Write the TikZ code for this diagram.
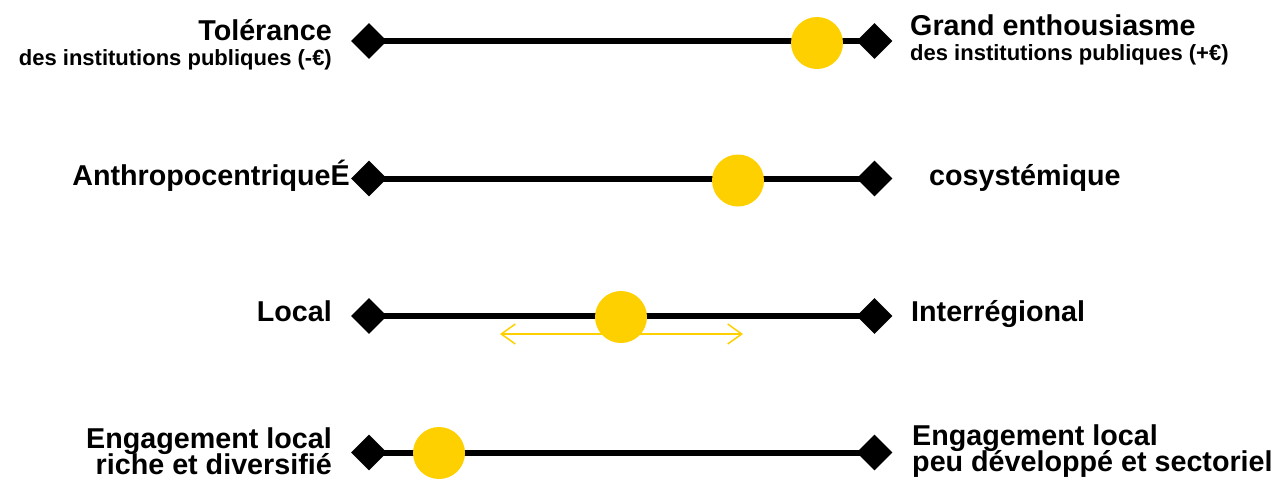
\documentclass[tikz,border=0pt]{standalone}
\usepackage{fontspec}
\setmainfont{Liberation Sans}
\usetikzlibrary{shapes.geometric,arrows.meta}
\definecolor{dotyellow}{RGB}{254,208,0}

\begin{document}
\begin{tikzpicture}[
        x=1pt, y=-1pt,
        axis/.style={line width=6pt},
        endmark/.style={diamond, fill=black, minimum size=36pt, inner sep=0pt},
        knob/.style={circle, fill=dotyellow, minimum size=52pt, inner sep=0pt},
        lab/.style={font=\fontsize{28.7pt}{30pt}\selectfont\bfseries, inner sep=0pt},
        sublab/.style={font=\fontsize{22pt}{24pt}\selectfont\bfseries, inner sep=0pt},
        spread/.style={dotyellow, line width=1.5pt, {Straight Barb[length=14pt,width=20pt]}-{Straight Barb[length=14pt,width=20pt]}}
      ]
      \useasboundingbox (0,0) rectangle (1281,483);
      % labels
      \node[lab, anchor=base east] (tol) at (332,40) {Tolérance};
      \node[sublab, anchor=base east] (tolsub) at (332,65) {des institutions publiques (-€)};
      \node[lab, anchor=base west] (enth) at (910,35) {Grand enthousiasme};
      \node[sublab, anchor=base west] (enthsub) at (910,60) {des institutions publiques (+€)};
      \node[lab, anchor=base east] (anthro) at (350,185) {AnthropocentriqueÉ};
      \node[lab, anchor=base west] (eco) at (929,185) {cosystémique};
      \node[lab, anchor=base east] (local) at (332,321.5) {Local};
      \node[lab, anchor=base west] (inter) at (911,321.5) {Interrégional};
      \node[lab, anchor=base east] (engl) at (332,448) {Engagement local};
      \node[lab, anchor=base east] (engldet) at (332,474) {riche et diversifié};
      \node[lab, anchor=base west] (engr) at (912,445) {Engagement local};
      \node[lab, anchor=base west] (engrdet) at (912,471) {peu développé et sectoriel};
      % axes
      \foreach \y/\n in {41/1, 178.5/2, 316/3, 452.5/4} {
        \node[endmark] (l\n) at (369,\y) {};
        \node[endmark] (r\n) at (874.5,\y) {};
        \draw[axis] (l\n.center) -- (r\n.center);
      }
      % spread on the third axis
      \coordinate (sprl) at (500,334);
      \coordinate (sprr) at (743,334);
      \draw[spread] (sprl) -- (sprr);
      % positions
      \node[knob] (c1) at (817,43) {};
      \node[knob] (c2) at (738,180.5) {};
      \node[knob] (c3) at (621,317) {};
      \node[knob] (c4) at (439,453) {};
    \end{tikzpicture}
\end{document}
